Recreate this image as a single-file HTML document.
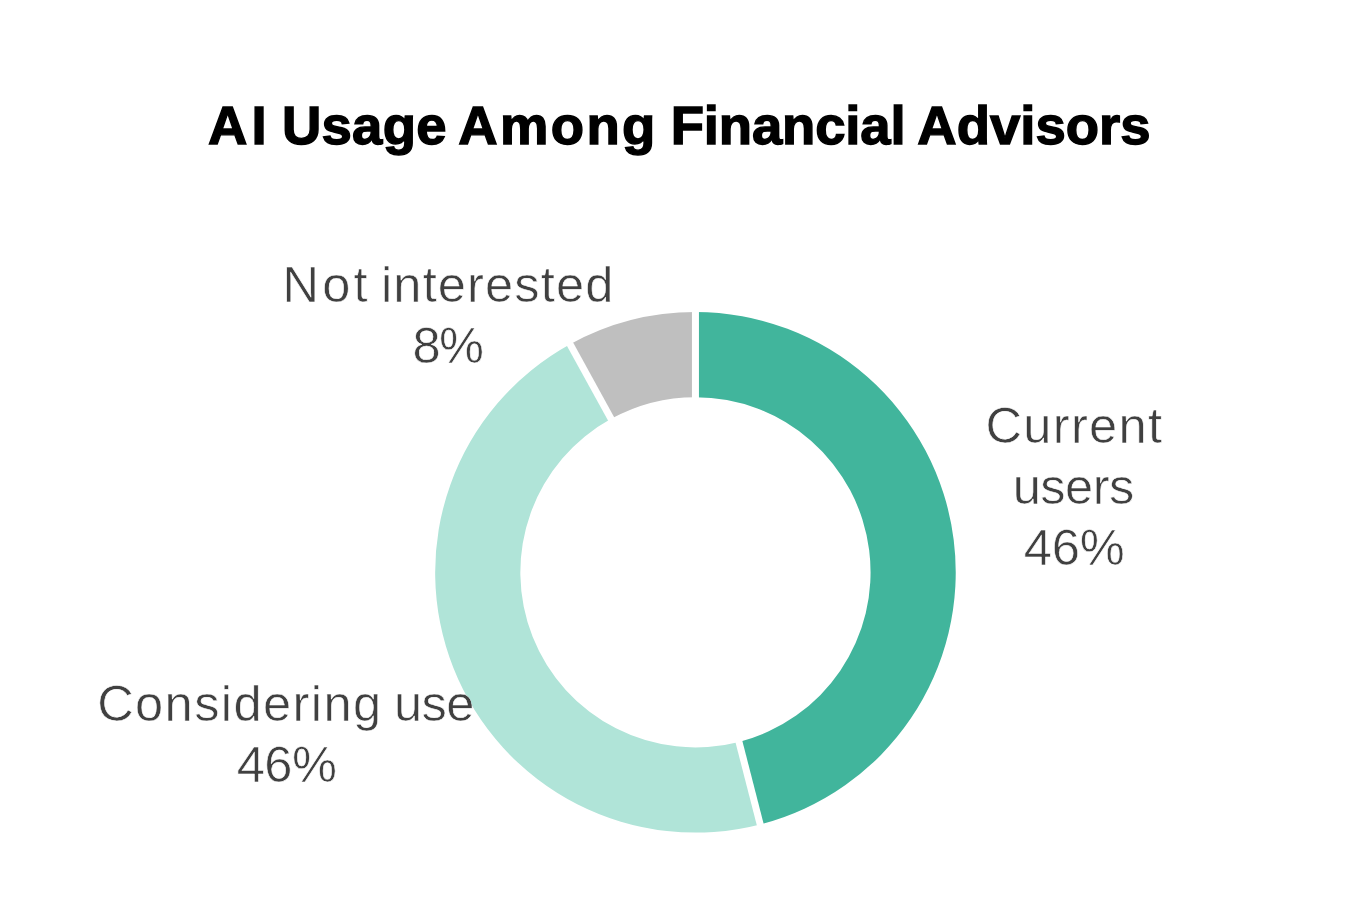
<!DOCTYPE html>
<html lang="en">
<head>
<meta charset="utf-8">
<title>AI Usage Among Financial Advisors</title>
<style>
html,body{margin:0;padding:0;background:#fff;}
body{width:1360px;height:921px;overflow:hidden;}
svg{display:block;}
text{font-family:"Liberation Sans",sans-serif;white-space:pre;}
</style>
</head>
<body>
<svg width="1360" height="921" viewBox="0 0 1360 921">
<rect width="1360" height="921" fill="#fff"/>
<g id="donut">
<path d="M695.45 312.00A260.3 260.3 0 0 1 760.18 824.42L739.00 741.90A175.1 175.1 0 0 0 695.45 397.20Z" fill="#41B59C"/>
<path d="M760.18 824.42A260.3 260.3 0 0 1 570.05 344.20L611.09 418.86A175.1 175.1 0 0 0 739.00 741.90Z" fill="#B0E4D8"/>
<path d="M570.05 344.20A260.3 260.3 0 0 1 695.45 312.00L695.45 397.20A175.1 175.1 0 0 0 611.09 418.86Z" fill="#BFBFBF"/>
<line x1="695.45" y1="403.20" x2="695.45" y2="306.00" stroke="#fff" stroke-width="7"/>
<line x1="737.50" y1="736.09" x2="761.68" y2="830.23" stroke="#fff" stroke-width="7"/>
<line x1="613.99" y1="424.12" x2="567.16" y2="338.94" stroke="#fff" stroke-width="7"/>
</g>
<g id="labels">
<text id="title" y="144.30" font-size="54.5" font-weight="bold" fill="#000" stroke="#000" stroke-width="1.4" stroke-linejoin="miter"><tspan x="208.09" letter-spacing="3.98">AI</tspan> <tspan x="281.94" letter-spacing="0.24">Usage</tspan> <tspan x="458.36" letter-spacing="2.32">Among</tspan> <tspan x="670.75" letter-spacing="-0.18">Financial</tspan> <tspan x="917.37" letter-spacing="0.01">Advisors</tspan></text>
<text id="l1a" y="302.00" font-size="50.6" font-weight="normal" fill="#404040" stroke="#fff" stroke-width="0.6" stroke-linejoin="round" style="mix-blend-mode:darken"><tspan x="282.53" letter-spacing="3.19">Not</tspan> <tspan x="381.00" letter-spacing="1.13">interested</tspan></text>
<text id="l1b" y="363.00" font-size="50.6" font-weight="normal" fill="#404040" stroke="#fff" stroke-width="0.6" stroke-linejoin="round" style="mix-blend-mode:darken"><tspan x="412.50" letter-spacing="-1.62">8%</tspan></text>
<text id="l2a" y="443.00" font-size="50.6" font-weight="normal" fill="#404040" stroke="#fff" stroke-width="0.6" stroke-linejoin="round" style="mix-blend-mode:darken"><tspan x="985.44" letter-spacing="1.31">Current</tspan></text>
<text id="l2b" y="504.00" font-size="50.6" font-weight="normal" fill="#404040" stroke="#fff" stroke-width="0.6" stroke-linejoin="round" style="mix-blend-mode:darken"><tspan x="1012.65" letter-spacing="-0.50">users</tspan></text>
<text id="l2c" y="565.00" font-size="50.6" font-weight="normal" fill="#404040" stroke="#fff" stroke-width="0.6" stroke-linejoin="round" style="mix-blend-mode:darken"><tspan x="1023.75" letter-spacing="-0.17">46%</tspan></text>
<text id="l3a" y="721.00" font-size="50.6" font-weight="normal" fill="#404040" stroke="#fff" stroke-width="0.6" stroke-linejoin="round" style="mix-blend-mode:darken"><tspan x="97.13" letter-spacing="1.40">Considering</tspan> <tspan x="393.99" letter-spacing="-0.53">use</tspan></text>
<text id="l3b" y="782.00" font-size="50.6" font-weight="normal" fill="#404040" stroke="#fff" stroke-width="0.6" stroke-linejoin="round" style="mix-blend-mode:darken"><tspan x="236.75" letter-spacing="-0.52">46%</tspan></text>
</g>
</svg>
</body>
</html>
